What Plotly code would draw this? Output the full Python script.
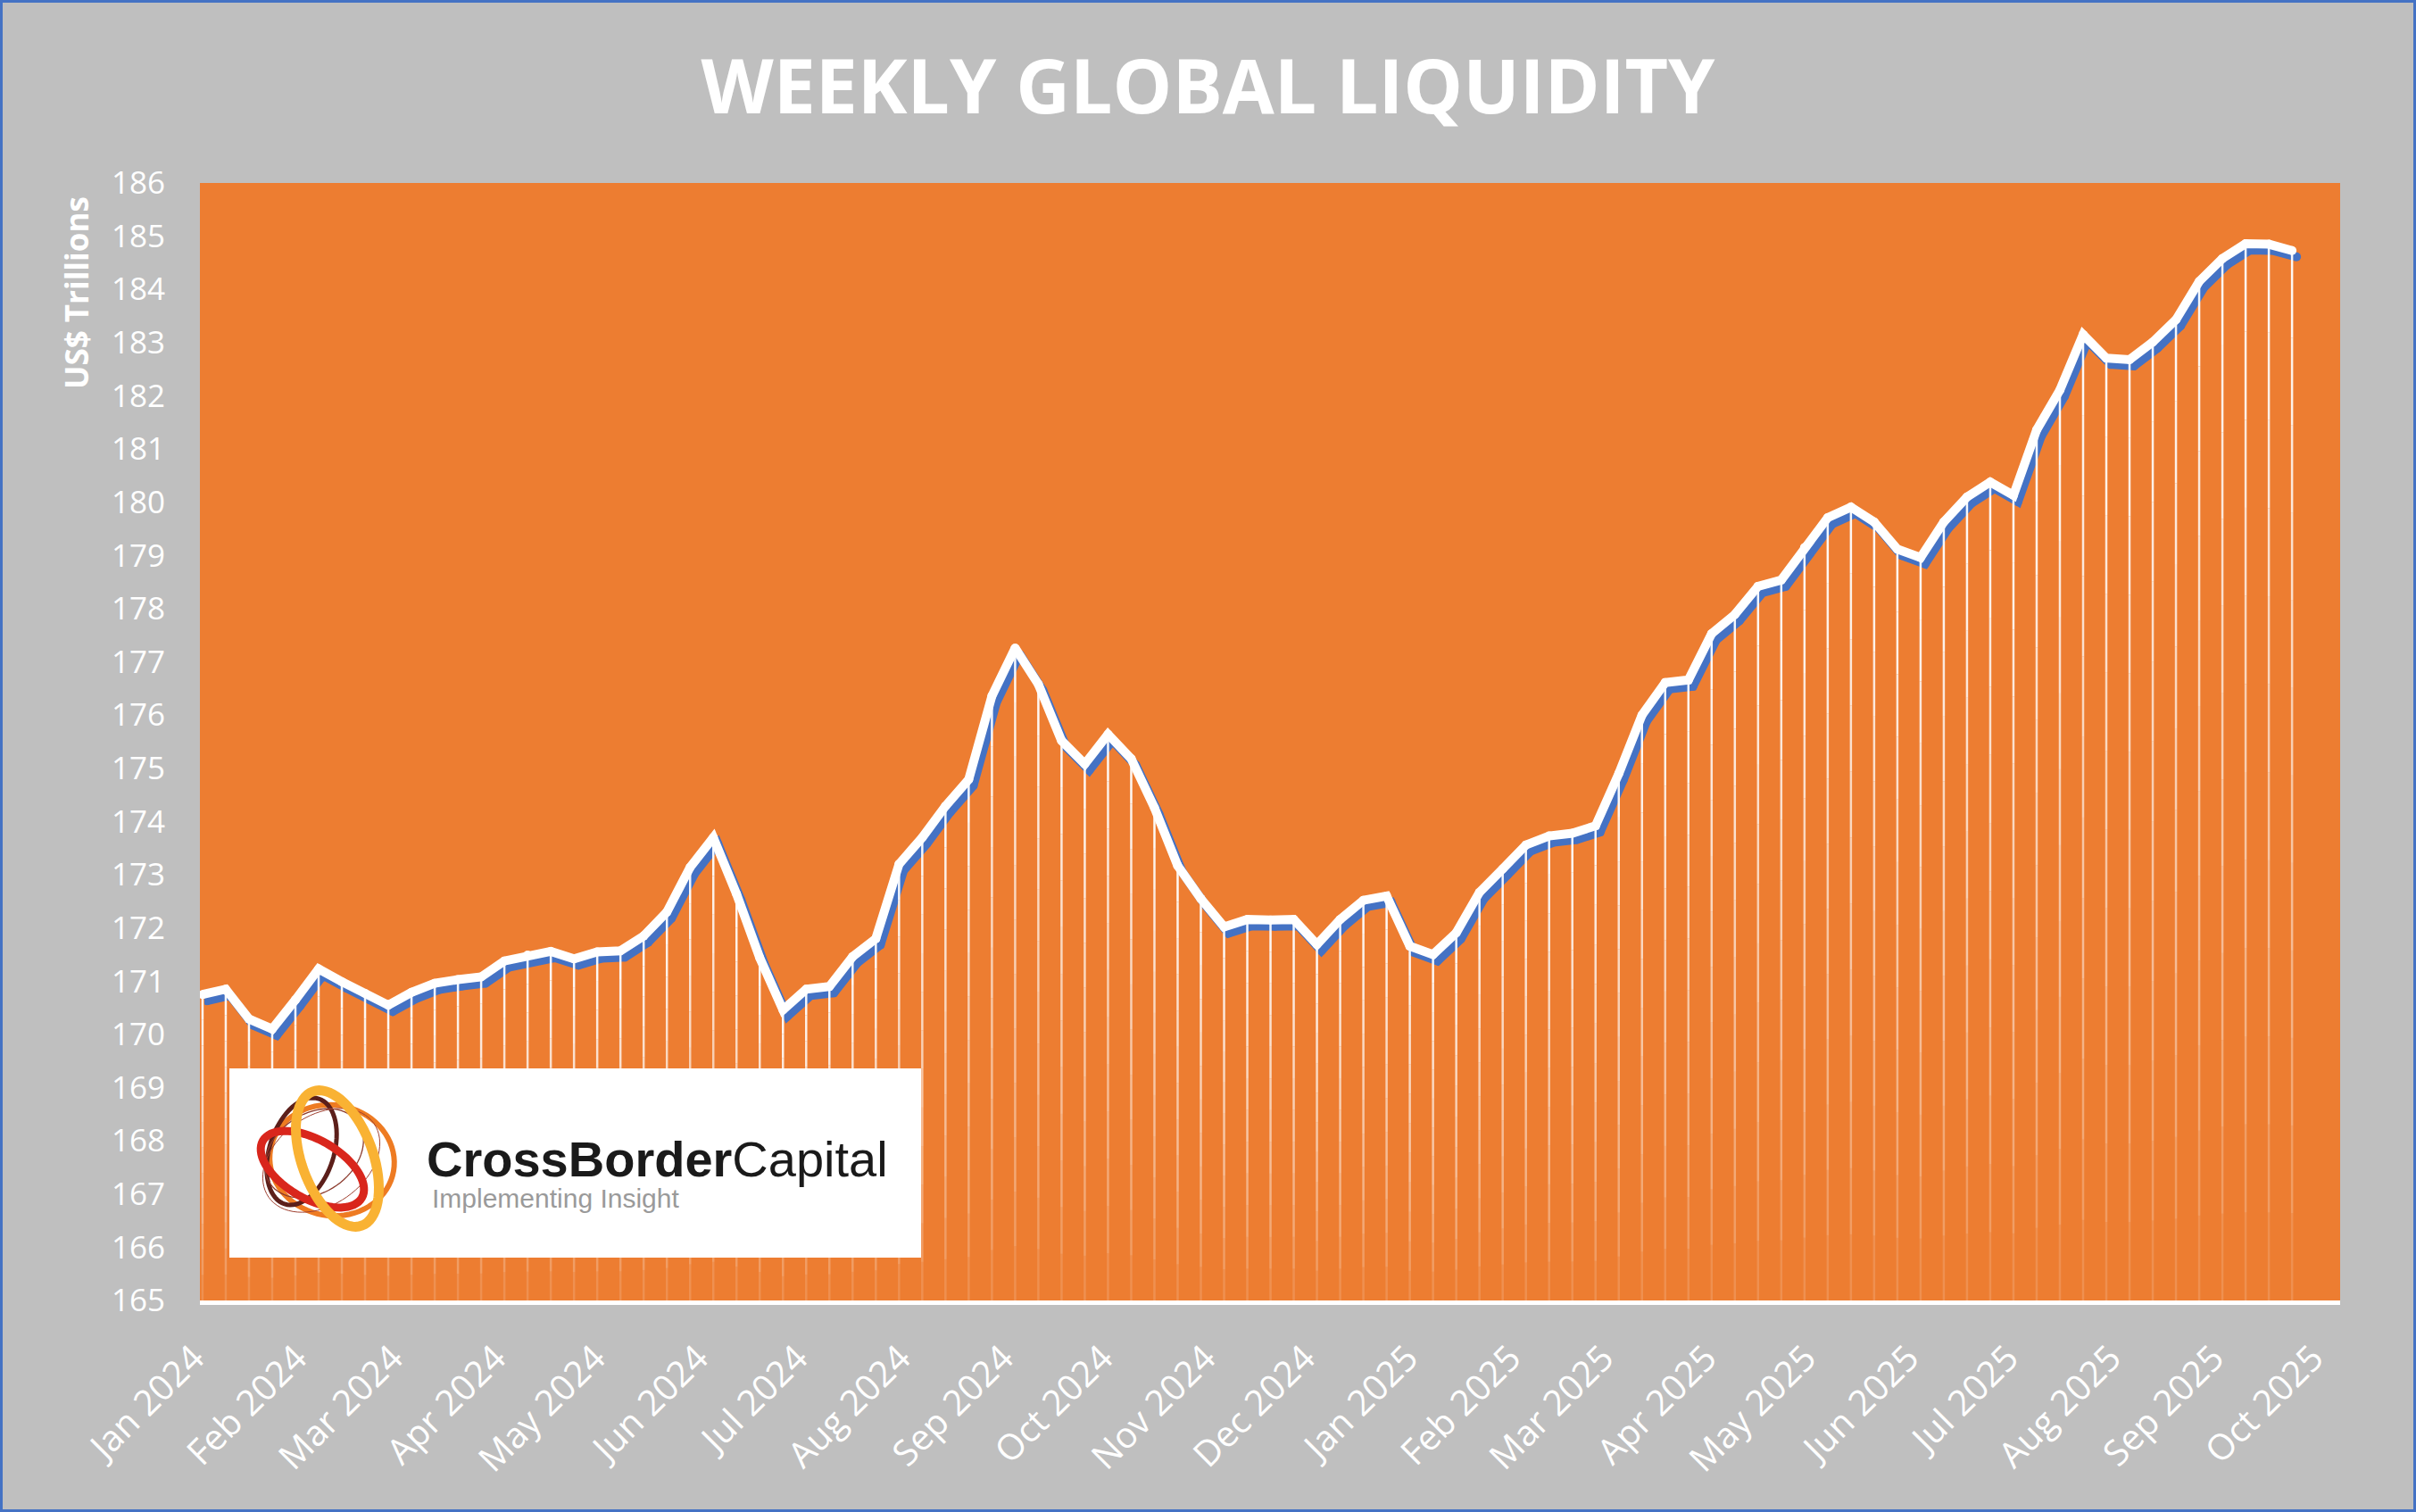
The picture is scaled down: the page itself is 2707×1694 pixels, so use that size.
import math
import pandas as pd
import plotly.graph_objects as go

# ---------------- data ----------------
START_DATE = "2024-01-01"
LIQUIDITY = [
    170.75, 170.85, 170.29, 170.10, 170.65, 171.23, 170.99, 170.77, 170.55, 170.79,
    170.96, 171.03, 171.08, 171.38, 171.49, 171.56, 171.42, 171.55, 171.57, 171.85,
    172.30, 173.14, 173.70, 172.64, 171.44, 170.46, 170.85, 170.90, 171.46, 171.80,
    173.20, 173.70, 174.29, 174.79, 176.36, 177.26, 176.58, 175.52, 175.08, 175.64,
    175.18, 174.26, 173.17, 172.55, 172.02, 172.16, 172.15, 172.16, 171.69, 172.16,
    172.52, 172.60, 171.66, 171.50, 171.91, 172.67, 173.11, 173.56, 173.73, 173.78,
    173.92, 174.90, 176.00, 176.61, 176.66, 177.53, 177.89, 178.42, 178.54, 179.15,
    179.71, 179.91, 179.63, 179.12, 178.96, 179.63, 180.10, 180.38, 180.13, 181.36,
    182.11, 183.15, 182.71, 182.68, 183.01, 183.43, 184.15, 184.58, 184.86, 184.85,
    184.73,
]
DATES = pd.date_range(START_DATE, periods=len(LIQUIDITY), freq="7D")

TICK_DATES = [
    "2024-01-01", "2024-02-01", "2024-03-01", "2024-04-01", "2024-05-01", "2024-06-01",
    "2024-07-01", "2024-08-01", "2024-09-01", "2024-10-01", "2024-11-01", "2024-12-01",
    "2025-01-01", "2025-02-01", "2025-03-01", "2025-04-01", "2025-05-01", "2025-06-01",
    "2025-07-01", "2025-08-01", "2025-09-01", "2025-10-01",
]
TICK_LABELS = [
    "Jan 2024", "Feb 2024", "Mar 2024", "Apr 2024", "May 2024", "Jun 2024",
    "Jul 2024", "Aug 2024", "Sep 2024", "Oct 2024", "Nov 2024", "Dec 2024",
    "Jan 2025", "Feb 2025", "Mar 2025", "Apr 2025", "May 2025", "Jun 2025",
    "Jul 2025", "Aug 2025", "Sep 2025", "Oct 2025",
]
Y_MIN, Y_MAX = 165, 186
Y_TICKS = list(range(165, 187))

TITLE = "WEEKLY GLOBAL LIQUIDITY"
Y_TITLE = "US$ Trillions"
LOGO_BOLD = "CrossBorder"
LOGO_REG = "Capital"
LOGO_TAG = "Implementing Insight"

# ---------------- style / geometry ----------------
W, H = 2707, 1694
ORANGE = "#ED7D31"
GREY = "#BFBFBF"
BLUE = "#4472C4"

PLOT_L, PLOT_R, PLOT_T, PLOT_B = 224, 2622, 205, 1457
SH_DX, SH_DY = 5, 7          # shadow offset (px)
ML, MT = PLOT_L, PLOT_T
MR = W - PLOT_R - SH_DX
MB = H - PLOT_B - SH_DY
PW, PH = W - ML - MR, H - MT - MB


def px(X):
    return (X - ML) / PW


def py(Y):
    return (H - MB - Y) / PH


PAD_L = pd.Timedelta(hours=19)
PAD_R = pd.Timedelta(days=14.5)
X_RANGE = [DATES[0] - PAD_L, DATES[-1] + PAD_R]

fig = go.Figure()

# shadow line (subplot xy, drawn first -> underneath)
fig.add_trace(go.Scatter(
    x=DATES, y=LIQUIDITY, mode="lines+markers",
    line=dict(color=BLUE, width=10), marker=dict(color=BLUE, size=10),
    xaxis="x", yaxis="y", hoverinfo="skip", showlegend=False,
))

# drop lines, fading towards the baseline
K = 12
for k in range(K):
    xs, ys = [], []
    for d, v in zip(DATES, LIQUIDITY):
        top = v - (v - Y_MIN) * k / K
        bot = v - (v - Y_MIN) * (k + 1) / K
        xs += [d, d, None]
        ys += [top, bot, None]
    f = (k + 0.5) / K
    alpha = 0.08 + 0.9 * (1 - f) ** 0.8
    fig.add_trace(go.Scatter(
        x=xs, y=ys, mode="lines",
        line=dict(color=f"rgba(255,255,255,{alpha:.3f})", width=2.5),
        xaxis="x2", yaxis="y2", hoverinfo="skip", showlegend=False,
    ))

# main white line
fig.add_trace(go.Scatter(
    x=DATES, y=LIQUIDITY, mode="lines+markers",
    line=dict(color="white", width=10), marker=dict(color="white", size=10),
    xaxis="x2", yaxis="y2", showlegend=False,
))

shapes = [
    # orange plot area
    dict(type="rect", xref="paper", yref="paper", x0=px(PLOT_L), x1=px(PLOT_R),
         y0=py(PLOT_B), y1=py(PLOT_T), fillcolor=ORANGE, line=dict(width=0), layer="below"),
    # outer blue border
    dict(type="rect", xref="paper", yref="paper", x0=px(1.5), x1=px(W - 1.5),
         y0=py(H - 1.5), y1=py(1.5), line=dict(color=BLUE, width=3), layer="above"),
    # logo box
    dict(type="rect", xref="paper", yref="paper", x0=px(257), x1=px(1032),
         y0=py(1409), y1=py(1197), fillcolor="white", line=dict(width=0), layer="above"),
]


def ellipse_path(rx, ry, rot, n=72):
    r = math.radians(rot)
    pts = []
    for i in range(n):
        t = 2 * math.pi * i / n
        ex, ey = rx * math.cos(t), ry * math.sin(t)
        sx = ex * math.cos(r) - ey * math.sin(r)
        sy = ex * math.sin(r) + ey * math.cos(r)
        pts.append(f"{sx:.2f},{-sy:.2f}")
    return "M " + " L ".join(pts) + " Z"


RINGS = [
    (372, 1300, 70, 62, 10, "#EE7B22", 6),
    (338, 1290, 36, 62, 18, "#5C1F1A", 5),
    (352, 1292, 60, 44, -35, "#8C3B2E", 1.3),
    (360, 1300, 50, 72, 55, "#A04030", 1.0),
    (350, 1310, 64, 33, 30, "#D9261C", 9),
    (378, 1298, 40, 80, -20, "#F9B233", 11),
]
for cx, cy, rx, ry, rot, col, w in RINGS:
    shapes.append(dict(
        type="path", xref="paper", yref="paper", xsizemode="pixel", ysizemode="pixel",
        xanchor=px(cx), yanchor=py(cy), path=ellipse_path(rx, ry, rot),
        line=dict(color=col, width=w), fillcolor="rgba(0,0,0,0)", layer="above",
    ))

annotations = [
    dict(text=f"<b>{Y_TITLE}</b>", textangle=-90, xref="paper", yref="paper",
         x=px(85), y=py(218), xanchor="center", yanchor="top", showarrow=False,
         font=dict(family="Open Sans", size=35, color="white")),
    dict(text=f"<b>{LOGO_BOLD}</b>{LOGO_REG}", xref="paper", yref="paper",
         x=px(476), y=py(1298), xanchor="left", yanchor="middle", showarrow=False,
         font=dict(family="Liberation Sans", size=56, color="#1A1A1A")),
    dict(text=LOGO_TAG, xref="paper", yref="paper",
         x=px(482), y=py(1342), xanchor="left", yanchor="middle", showarrow=False,
         font=dict(family="Liberation Sans", size=30, color="#9A9A9A")),
]

fig.update_layout(
    width=W, height=H,
    margin=dict(l=ML, r=MR, t=MT, b=MB, pad=0),
    paper_bgcolor=GREY, plot_bgcolor="rgba(0,0,0,0)",
    title=dict(text=TITLE, x=0.5, xanchor="center", xref="container",
               y=1 - 98 / H, yanchor="middle", yref="container",
               font=dict(family="Open Sans", size=84, color="white", weight="bold")),
    xaxis=dict(type="date", range=X_RANGE, domain=[px(PLOT_L + SH_DX), 1],
               anchor="y", visible=False),
    yaxis=dict(range=[Y_MIN, Y_MAX], domain=[0, py(PLOT_T + SH_DY)],
               anchor="x", visible=False),
    xaxis2=dict(type="date", range=X_RANGE, domain=[0, px(PLOT_R)], anchor="y2",
                tickvals=TICK_DATES, ticktext=TICK_LABELS, tickangle=-45,
                tickfont=dict(family="Open Sans", size=40, color="white"),
                showline=True, linecolor="white", linewidth=5,
                showgrid=False, zeroline=False, ticks="",
                ticklabelstandoff=20, ticklabelshift=-10),
    yaxis2=dict(range=[Y_MIN, Y_MAX], domain=[py(PLOT_B), 1], anchor="x2",
                tickvals=Y_TICKS, ticktext=[str(t) for t in Y_TICKS],
                tickfont=dict(family="Open Sans", size=35, color="white"),
                showline=False, showgrid=False, zeroline=False, ticks="",
                ticklabelstandoff=38),
    shapes=shapes, annotations=annotations,
    showlegend=False,
)

fig.write_html("out.html", config={"displayModeBar": False},
               post_script="document.body.style.margin='0px';")
